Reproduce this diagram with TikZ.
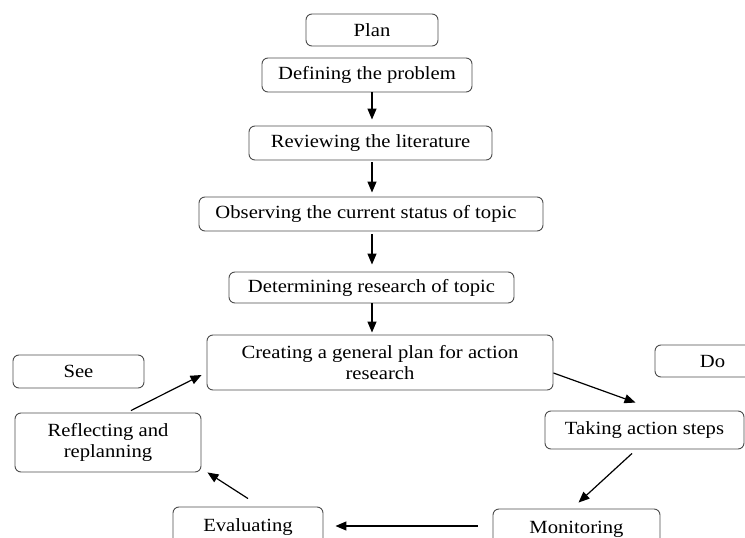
\documentclass[tikz,border=0pt]{standalone}
\usepackage{fontspec}
\setmainfont{Liberation Serif}[FakeStretch=1.11]
\usetikzlibrary{arrows.meta,calc}
\begin{document}
\begin{tikzpicture}[x=1pt,y=-1pt,
  box/.style={draw=black!70,line width=0.9pt,rounded corners=6pt,inner sep=0pt,
    font=\fontsize{18.6}{21}\selectfont,align=center},
  arr/.style={line width=1.2pt,-{Triangle[length=11pt,width=9pt]}}]
\useasboundingbox (0,0) rectangle (745,538);
\clip (0,0) rectangle (745,538);
\node[box,minimum width=132pt,minimum height=32pt] (plan) at (372,30) {Plan};
\node[box,minimum width=210pt,minimum height=34pt] (def) at (367,75) {Defining the problem};
\node[box,minimum width=243pt,minimum height=34pt] (rev) at (370.5,143) {Reviewing the literature};
\node[box,minimum width=344pt,minimum height=34pt] (obs) at (371,214) {Observing the current status of topic\hspace{10pt}};
\node[box,minimum width=285pt,minimum height=31pt] (det) at (371.5,287.5) {Determining research of topic};
\node[box,minimum width=346pt,minimum height=55pt] (cre) at (380,362.5) {Creating a general plan for action\\research};
\node[box,minimum width=131pt,minimum height=33pt] (see) at (78.5,371.5) {See};
\node[box,minimum width=115pt,minimum height=32pt] (do) at (712.5,361) {Do};
\node[box,minimum width=186pt,minimum height=59pt] (ref) at (108,442.5) {Reflecting and\\replanning};
\node[box,minimum width=199pt,minimum height=38pt] (tak) at (644.5,430) {Taking action steps};
\node[box,minimum width=150pt,minimum height=40pt] (eva) at (248,527) {Evaluating};
\node[box,minimum width=167pt,minimum height=40pt] (mon) at (576.5,529) {Monitoring};

\draw[arr] (def.south -| plan.center) -- ($(rev.north -| plan.center)+(0,-6)$);
\draw[arr] ($(rev.south -| plan.center)+(0,2)$) -- ($(obs.north -| plan.center)+(0,-4)$);
\draw[arr] ($(obs.south -| plan.center)+(0,3)$) -- ($(det.north -| plan.center)+(0,-7)$);
\draw[arr] (det.south -| plan.center) -- ($(cre.north -| plan.center)+(0,-2)$);
\draw[arr] ($(cre.east)+(0,10.5)$) -- ($(tak.north)+(-9,-8)$);
\draw[arr] ($(tak.south)+(-12.5,4)$) -- ($(mon.north)+(2,-6)$);
\draw[arr] ($(mon.west)+(-15,-3)$) -- ($(eva.east)+(12,-1)$);
\draw[arr] ($(eva.north)+(0,-8)$) -- ($(ref.south east)+(6,0)$);
\draw[arr] ($(ref.north)+(23,-2)$) -- ($(cre.west)+(-5,12.5)$);
\end{tikzpicture}
\end{document}
